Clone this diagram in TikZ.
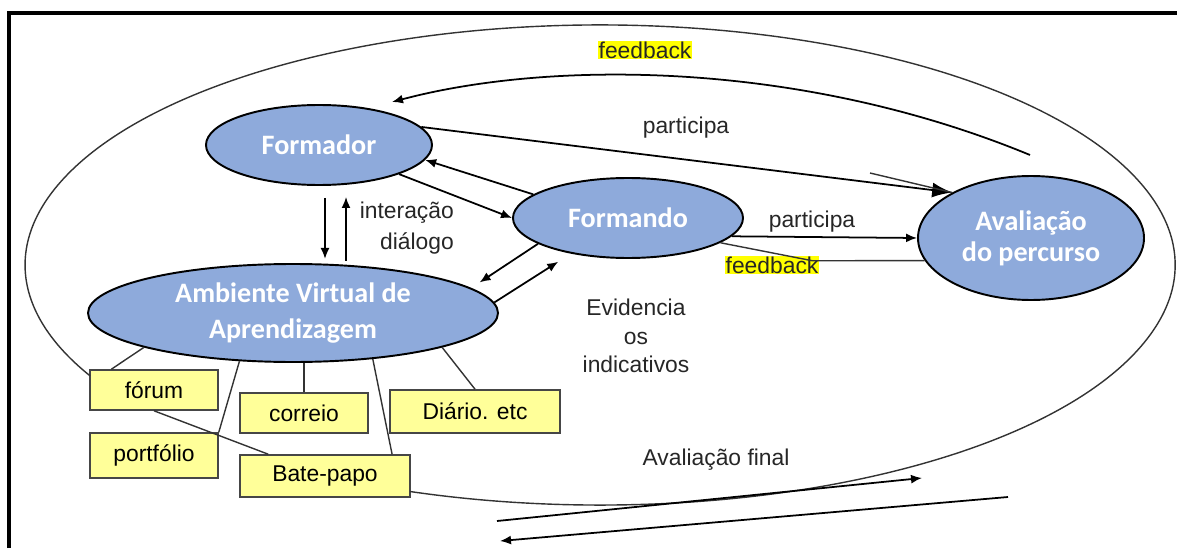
\documentclass[tikz,border=0pt]{standalone}
\usepackage{fontspec}
\setmainfont{Liberation Sans}
\newfontfamily\calibri{Carlito}
\usetikzlibrary{shapes.geometric,arrows.meta}
\definecolor{bubblefill}{RGB}{142,170,219}
\definecolor{boxfill}{RGB}{255,255,153}
\definecolor{boxline}{RGB}{70,70,70}
\definecolor{marker}{RGB}{255,255,0}
\begin{document}
\begin{tikzpicture}[x=0.2mm,y=-0.2mm,
	bubble/.style={ellipse, draw=black, line width=1.1pt, fill=bubblefill, text=white, inner sep=0pt, align=center, font=\calibri\bfseries\fontsize{16}{20.4}\selectfont},
	tool/.style={rectangle, draw=boxline, fill=boxfill, line width=0.9pt, inner sep=0pt, font=\fontsize{13}{15}\selectfont},
	lbl/.style={align=center, text=black!85, font=\fontsize{13}{16.2}\selectfont},
	hilite/.style={lbl, fill=marker, inner sep=0.4pt},
	link/.style={line width=0.8pt, draw=black!80},
	flow/.style={line width=1pt, -{Latex[length=2.2mm,width=1.8mm]}}]
	\useasboundingbox (0,0) rectangle (1177,548);
	\draw[line width=0.8mm] (9,548) -- (9,13) -- (1177,13);
	\node[bubble, minimum width=45.2mm, minimum height=16mm] (formador) at (319,145) {Formador};
	\node[bubble, minimum width=46mm, minimum height=16mm] (formando) at (628,218) {Formando};
	\node[bubble, minimum width=45.2mm, minimum height=24.8mm, font=\calibri\bfseries\fontsize{16}{17.5}\selectfont] (aval) at (1031,238) {Avaliação\\do percurso};
	\node[bubble, minimum width=82mm, minimum height=19.6mm] (ava) at (293,313) {Ambiente Virtual de\\Aprendizagem};
	\foreach \n/\x/\y/\w/\h/\t in {forum/154/390/25.6/8/fórum, portfolio/154/455.5/25.6/9/portfólio, correio/304/413/25.6/8/correio, diario/475/411.5/34/8.6/{Diário. etc}, batepapo/325/476/34/8.4/Bate-papo}
		\node[tool, minimum width=\w mm, minimum height=\h mm] (\n) at (\x,\y) {\t};
	\draw[link] (ava.193) -- (forum.154);
	\draw[link] (ava.222) -- (portfolio.north east);
	\draw[link] (correio.north) -- (correio.north |- ava.south);
	\draw[link] (ava.330) -- (batepapo.18);
	\draw[link] (ava.347) -- (diario.north);
	\draw[link] (forum.south) -- (batepapo.159);
	\coordinate (rimstart) at (410,491.5);
	\draw[link] (rimstart) arc[start angle=250.7, end angle=567.5, x radius=115mm, y radius=48mm];
	\node[hilite] (fbtop) at (645,50) {feedback};
	\node[hilite] (fblow) at (772,265) {feedback};
	\node[lbl] (partA) at (686,128) {participa};
	\node[lbl] (partB) at (812,222) {participa};
	\node[lbl, anchor=east, align=right, font=\fontsize{13}{17.5}\selectfont] (talk) at (460,228) {interação\\diálogo};
	\node[lbl] (evid) at (636,336) {Evidencia\\os\\indicativos};
	\node[lbl] (final) at (716,460) {Avaliação final};
	\coordinate (fbtail) at (1030,155);
	\coordinate (fbhead) at (392,102);
	\draw[flow] (fbtail) .. controls (800,60) and (550,60) .. (fbhead);
	\draw[line width=1pt, -{Latex[length=4mm,width=3mm]}] (formador.10) -- (aval.150);
	\coordinate (stray) at (870,173);
	\draw[link] (stray) -- (aval.150);
	\draw[flow] (formando.350) -- (aval.west);
	\draw[link] (formando.345) -- ++(92,18) -- (aval.192);
	\draw[flow] (formando.166) -- (formador.352);
	\draw[flow] (formador.340) -- (formando.180);
	\draw[flow, shorten >=2mm] (formando.196) -- (ava.8);
	\draw[flow, shorten >=3mm] (ava.3) -- (formando.212);
	\draw[flow, shorten <=2.4mm] ([xshift=1.2mm]formador.south) -- ++(0,73);
	\draw[flow, shorten >=2.2mm] ([xshift=5.4mm]formador.south) ++(0,75) -- ([xshift=5.4mm]formador.south);
	\coordinate (finA) at (497,521);
	\coordinate (finB) at (922,478);
	\coordinate (retA) at (1008,497);
	\coordinate (retB) at (500,541);
	\draw[flow] (finA) -- (finB);
	\draw[flow] (retA) -- (retB);
\end{tikzpicture}
\end{document}
